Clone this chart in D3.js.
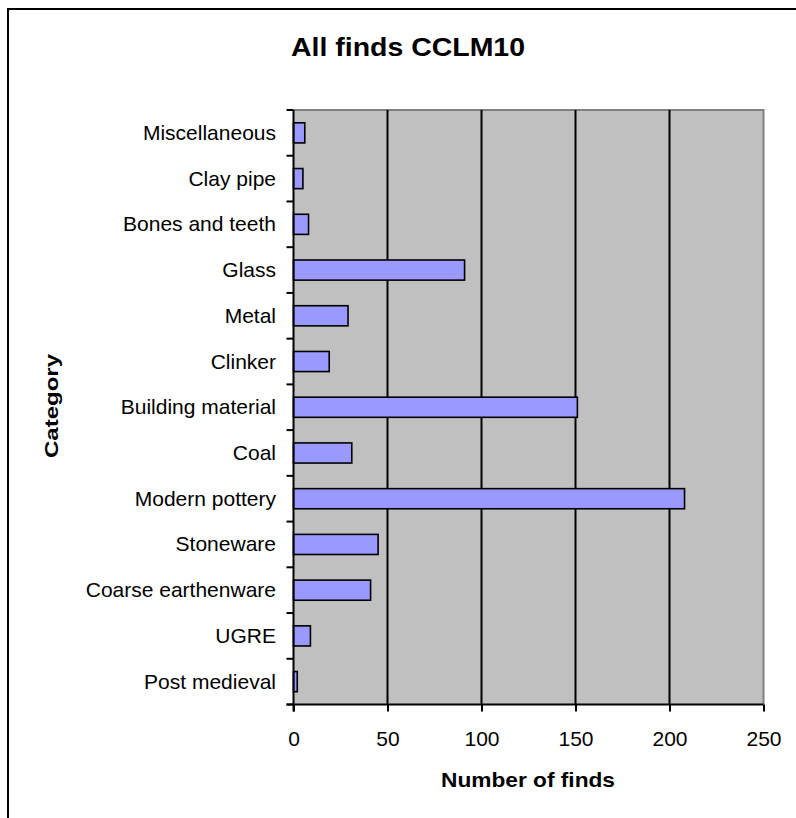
<!DOCTYPE html>
<html>
<head>
<meta charset="utf-8">
<script src="https://cdn.jsdelivr.net/npm/d3@7/dist/d3.min.js"></script>
<style>
  html, body { margin: 0; padding: 0; background: #fff; }
  svg { display: block; font-family: Arial, "Liberation Sans", sans-serif; }
</style>
</head>
<body>
<svg id="chart" width="796" height="818"></svg>
<script>
// Finds per category, listed top to bottom as drawn
const categories = [
  "Miscellaneous", "Clay pipe", "Bones and teeth", "Glass", "Metal", "Clinker",
  "Building material", "Coal", "Modern pottery", "Stoneware",
  "Coarse earthenware", "UGRE", "Post medieval"
];
const finds = [6, 5, 8, 91, 29, 19, 151, 31, 208, 45, 41, 9, 2];
const xTicks = [0, 50, 100, 150, 200, 250];

const titleText = "All finds CCLM10";
const xTitle = "Number of finds";
const yTitle = "Category";

const rows = categories.map((c, i) => ({ category: c, value: finds[i] }));

const svg = d3.select("#chart");

// Plot area bounds
const plotLeft = 293.5, plotRight = 763.5, plotTop = 110, plotBottom = 704.5;

const x = d3.scaleLinear().domain([0, 250]).range([plotLeft, plotRight]);
const y = d3.scaleBand()
  .domain(categories)
  .range([plotTop, plotBottom])
  .paddingInner(0.56)
  .paddingOuter(0.28);

// Outer chart frame (runs off the right and bottom edges)
svg.append("rect")
  .attr("x", 8).attr("y", 9)
  .attr("width", 820).attr("height", 840)
  .attr("fill", "#fff")
  .attr("stroke", "#000")
  .attr("stroke-width", 2);

// Plot background
svg.append("rect")
  .attr("x", plotLeft).attr("y", plotTop)
  .attr("width", plotRight - plotLeft).attr("height", plotBottom - plotTop)
  .attr("fill", "#C0C0C0");

// Gray plot border on top and right
svg.append("path")
  .attr("d", `M${plotLeft},${plotTop}H${plotRight}V${plotBottom}`)
  .attr("fill", "none")
  .attr("stroke", "#808080")
  .attr("stroke-width", 2);

// Vertical gridlines
svg.append("g")
  .selectAll("line")
  .data(xTicks.filter(t => t > 0 && t < 250))
  .join("line")
  .attr("x1", d => x(d)).attr("x2", d => x(d))
  .attr("y1", plotTop).attr("y2", plotBottom)
  .attr("stroke", "#000")
  .attr("stroke-width", 2);

// Bars
svg.append("g")
  .selectAll("rect")
  .data(rows)
  .join("rect")
  .attr("x", x(0))
  .attr("y", d => y(d.category))
  .attr("width", d => x(d.value) - x(0))
  .attr("height", y.bandwidth())
  .attr("fill", "#9999FF")
  .attr("stroke", "#000")
  .attr("stroke-width", 1.6);

// X axis
const xAxis = svg.append("g")
  .attr("transform", `translate(0,${plotBottom})`)
  .call(d3.axisBottom(x).tickValues(xTicks).tickSize(7).tickSizeOuter(0).tickPadding(8));
xAxis.select(".domain").attr("stroke", "#000").attr("stroke-width", 2)
  .attr("d", `M${plotLeft - 7},0H${plotRight}`);
xAxis.selectAll(".tick line").attr("stroke", "#000").attr("stroke-width", 2);
xAxis.selectAll(".tick text")
  .attr("font-size", 21)
  .attr("font-family", "Arial, 'Liberation Sans', sans-serif")
  .attr("fill", "#000")
  .attr("dy", null)
  .attr("y", 41);

// Y axis: ticks sit at category boundaries
const yAxisG = svg.append("g");
yAxisG.append("line")
  .attr("x1", plotLeft).attr("x2", plotLeft)
  .attr("y1", plotTop).attr("y2", plotBottom + 7)
  .attr("stroke", "#000").attr("stroke-width", 2);
const boundaries = categories.map(c => y(c) - y.step() * y.paddingInner() / 2)
  .concat([plotBottom]);
yAxisG.selectAll("line.tick")
  .data(boundaries)
  .join("line")
  .attr("class", "tick")
  .attr("x1", plotLeft - 7).attr("x2", plotLeft)
  .attr("y1", d => d).attr("y2", d => d)
  .attr("stroke", "#000").attr("stroke-width", 2);

yAxisG.selectAll("text")
  .data(categories)
  .join("text")
  .attr("x", 276)
  .attr("y", d => y(d) + y.bandwidth() / 2 + 7)
  .attr("text-anchor", "end")
  .attr("font-size", 21)
  .attr("fill", "#000")
  .text(d => d);

// Title
svg.append("text")
  .attr("x", 408).attr("y", 56)
  .attr("text-anchor", "middle")
  .attr("font-size", 25)
  .attr("font-weight", "bold")
  .attr("textLength", 234)
  .attr("lengthAdjust", "spacingAndGlyphs")
  .text(titleText);

// Axis titles
svg.append("text")
  .attr("x", 528).attr("y", 787)
  .attr("text-anchor", "middle")
  .attr("font-size", 21)
  .attr("font-weight", "bold")
  .attr("textLength", 174)
  .attr("lengthAdjust", "spacingAndGlyphs")
  .text(xTitle);

svg.append("text")
  .attr("transform", `translate(58,406) rotate(-90)`)
  .attr("text-anchor", "middle")
  .attr("font-size", 19)
  .attr("font-weight", "bold")
  .attr("textLength", 104)
  .attr("lengthAdjust", "spacingAndGlyphs")
  .text(yTitle);
</script>
</body>
</html>
